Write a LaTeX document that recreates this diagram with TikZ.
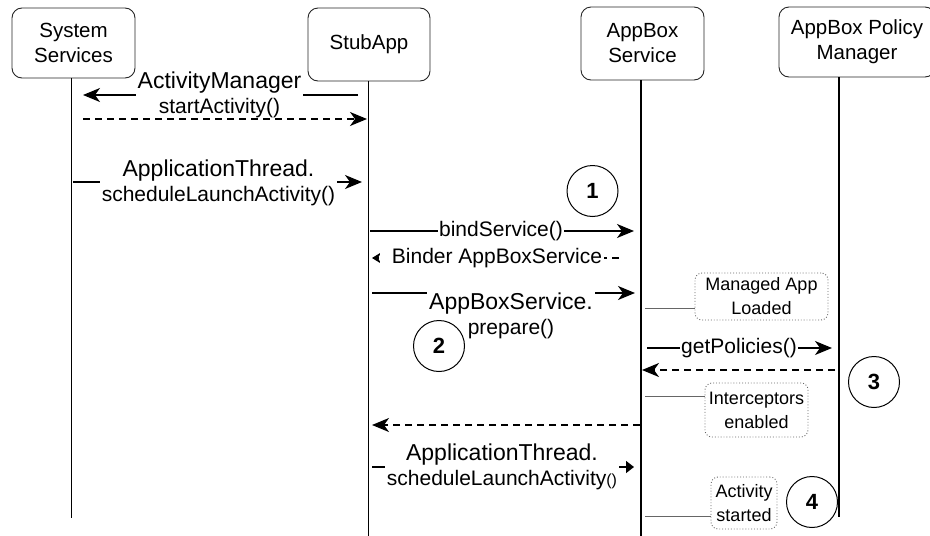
\documentclass[tikz,border=0pt]{standalone}
\usepackage{fontspec}
\setmainfont{Liberation Sans}
\usetikzlibrary{arrows.meta}
\newcommand\fsz[2]{\fontsize{#1pt}{#2pt}\selectfont}
\begin{document}
\begin{tikzpicture}[x=1pt,y=-1pt,
  actor/.style={draw=black!85, line width=0.9pt, rounded corners=10pt, align=center, font=\fsz{20.5}{25}, inner sep=0pt},
  life/.style={line width=1.8pt},
  msg/.style={line width=1.5pt, -{Stealth[length=17pt,width=14pt,inset=5pt]}},
  ret/.style={msg, dash pattern=on 7pt off 5pt},
  smallret/.style={line width=1.5pt, dash pattern=on 7pt off 5pt, -{Stealth[length=9pt,width=11pt,inset=3pt]}},
  tri/.style={line width=1.5pt, -{Triangle[length=8pt,width=12pt]}},
  lbl/.style={fill=white, align=center, inner sep=2pt, font=\fsz{21}{24.5}},
  note/.style={draw=black!60, dotted, line width=0.9pt, rounded corners=7pt, align=center, font=\fsz{18}{24}, fill=white, inner sep=0pt},
  link/.style={draw=black!60, line width=0.9pt},
  num/.style={circle, draw, line width=1pt, minimum size=51pt, inner sep=0pt, font=\bfseries\fsz{22}{24}},
]
\useasboundingbox (0,0) rectangle (930,536);
\clip (0,0) rectangle (930,536);

% actors
\node[actor, minimum width=123pt, minimum height=70pt] (ss) at (73.5,43) {System\\Services};
\node[actor, minimum width=122pt, minimum height=73pt] (stub) at (369,44.5) {StubApp};
\node[actor, minimum width=123pt, minimum height=73pt] (abs) at (642.5,43.5) {AppBox\\Service};
\node[actor, minimum width=156pt, minimum height=70pt] (pm) at (857,42) {AppBox Policy\\Manager};

% lifelines
\coordinate (ssT) at (71.5,78);   \coordinate (ssB) at (71.5,518);
\coordinate (stubT) at (368.5,81); \coordinate (stubB) at (368.5,536);
\coordinate (absT) at (641,80);   \coordinate (absB) at (641,536);
\coordinate (pmT) at (839,77);    \coordinate (pmB) at (839,517);
\draw[life] (ssT) -- (ssB);
\draw[life] (stubT) -- (stubB);
\draw[life] (absT) -- (absB);
\draw[life] (pmT) -- (pmB);

% message 1: ActivityManager.startActivity()
\coordinate (m1s) at (358,95); \coordinate (m1e) at (83,95);
\draw[msg] (m1s) -- (m1e);
\node[lbl] (l1) at (219.5,95) {{\fsz{23}{24.5}ActivityManager}\\startActivity()};

% message 2: dashed return
\coordinate (m2s) at (83,119); \coordinate (m2e) at (367,119);
\draw[ret] (m2s) -- (m2e);

% message 3: ApplicationThread.scheduleLaunchActivity()
\coordinate (m3s) at (73,182); \coordinate (m3e) at (362,182);
\draw[msg] (m3s) -- (m3e);
\node[lbl] (l3) at (218.5,183) {{\fsz{23}{24.5}ApplicationThread.}\\scheduleLaunchActivity()};

% message 4: bindService()
\coordinate (m4s) at (370,231); \coordinate (m4e) at (634,231);
\draw[msg] (m4s) -- (m4e);
\node[lbl, inner xsep=1pt] (l4) at (501,231) {bindService()};

% message 5: Binder AppBoxService
\coordinate (m5s) at (619,258); \coordinate (m5e) at (372,258);
\draw[smallret] (m5s) -- (m5e);
\node[lbl] (l5) at (492,258) {\hspace*{10pt}Binder AppBoxService};

% message 6: AppBoxService.prepare()
\coordinate (m6s) at (372,293); \coordinate (m6e) at (635,293);
\draw[msg] (m6s) -- (m6e);
\node[lbl, inner ysep=3pt] (l6) at (511,316) {{\fsz{23}{24.5}AppBoxService.}\\prepare()};

% note: Managed App Loaded
\coordinate (a1) at (645,308);
\node[note, minimum width=133pt, minimum height=47pt] (n1) at (761.5,296.5) {Managed App\\Loaded};
\draw[link] (a1) -- (a1 -| n1.west);

% message 7: getPolicies()
\coordinate (m7s) at (647,348); \coordinate (m7e) at (832,348);
\draw[msg] (m7s) -- (m7e);
\node[lbl, inner xsep=1pt] (l7) at (739,348) {getPolicies()};

% message 8: dashed return
\coordinate (m8s) at (835,370); \coordinate (m8e) at (642,370);
\draw[ret] (m8s) -- (m8e);

% note: Interceptors enabled
\coordinate (a2) at (645,396);
\node[note, minimum width=103pt, minimum height=54pt] (n2) at (756.5,410) {Interceptors\\enabled};
\draw[link] (a2) -- (a2 -| n2.west);

% message 9: dashed return
\coordinate (m9s) at (640,425); \coordinate (m9e) at (372,425);
\draw[ret] (m9s) -- (m9e);

% message 10: ApplicationThread.scheduleLaunchActivity()
\coordinate (m10s) at (372,467); \coordinate (m10e) at (634,467);
\draw[tri] (m10s) -- (m10e);
\node[lbl] (l10) at (502,467) {{\fsz{23}{24.5}ApplicationThread.}\\scheduleLaunchActivity{\fsz{16}{24.5}()}};

% note: Activity started
\coordinate (a3) at (645,516);
\node[note, minimum width=66pt, minimum height=52pt] (n3) at (744,503) {Activity\\started};
\draw[link] (a3) -- (a3 -| n3.west);

% numbered circles
\node[num] (c1) at (592.5,191) {1};
\node[num] (c2) at (439,346) {2};
\node[num] (c3) at (874,382) {3};
\node[num] (c4) at (812,502) {4};
\end{tikzpicture}
\end{document}
